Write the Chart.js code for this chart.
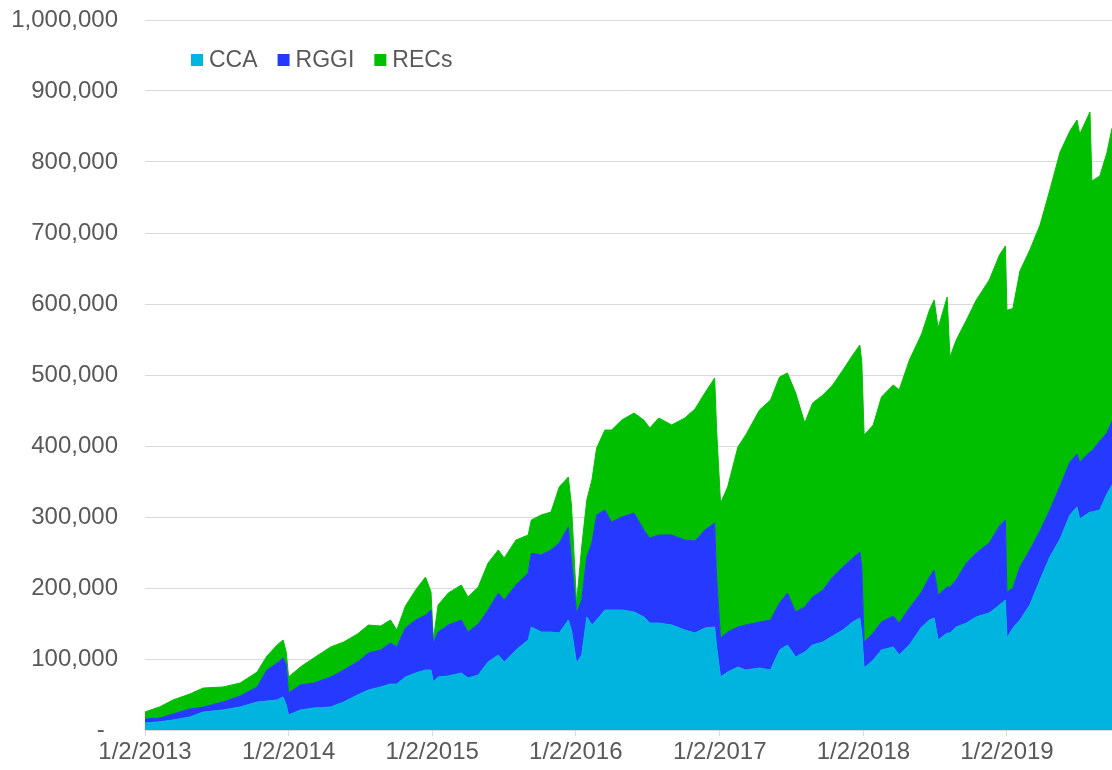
<!DOCTYPE html>
<html>
<head>
<meta charset="utf-8">
<title>CCA / RGGI / RECs</title>
<script src="https://cdn.jsdelivr.net/npm/chart.js@4.4.1/dist/chart.umd.min.js"></script>
<style>
  html, body { margin: 0; padding: 0; background: #fff; }
  #wrap { width: 1112px; height: 770px; }
</style>
</head>
<body>
<div id="wrap"><canvas id="chart" width="1112" height="770"></canvas></div>
<script>
// ── Data ────────────────────────────────────────────────────

const dates = [
  '2013-01-02', '2013-02-09', '2013-03-14', '2013-04-26', '2013-05-30', '2013-07-19',
  '2013-09-01', '2013-10-14', '2013-11-08', '2013-12-04', '2013-12-19', '2013-12-27',
  '2014-01-02', '2014-02-01', '2014-03-07', '2014-04-19', '2014-05-22', '2014-06-26',
  '2014-07-24', '2014-08-24', '2014-09-18', '2014-10-04', '2014-10-26', '2014-11-21',
  '2014-12-16', '2014-12-30', '2015-01-05', '2015-01-17', '2015-02-12', '2015-03-17',
  '2015-04-03', '2015-04-29', '2015-05-24', '2015-06-19', '2015-07-04', '2015-08-03',
  '2015-09-03', '2015-09-11', '2015-10-06', '2015-10-31', '2015-11-21', '2015-12-14',
  '2015-12-22', '2016-01-04', '2016-01-17', '2016-01-30', '2016-02-12', '2016-02-24',
  '2016-03-16', '2016-04-02', '2016-04-28', '2016-05-29', '2016-06-23', '2016-07-08',
  '2016-07-31', '2016-09-02', '2016-10-05', '2016-10-31', '2016-11-25', '2016-12-20',
  '2016-12-25', '2017-01-04', '2017-01-22', '2017-02-17', '2017-03-09', '2017-04-13',
  '2017-05-11', '2017-06-03', '2017-06-23', '2017-07-14', '2017-08-06', '2017-08-26',
  '2017-09-21', '2017-10-16', '2017-11-11', '2017-12-06', '2017-12-24', '2017-12-29',
  '2018-01-04', '2018-01-27', '2018-02-17', '2018-03-19', '2018-04-03', '2018-04-29',
  '2018-05-30', '2018-06-19', '2018-07-01', '2018-07-11', '2018-08-03', '2018-08-10',
  '2018-08-26', '2018-09-21', '2018-10-16', '2018-11-18', '2018-12-14', '2018-12-29',
  '2019-01-02', '2019-01-17', '2019-02-04', '2019-03-01', '2019-03-27', '2019-04-21',
  '2019-05-17', '2019-06-11', '2019-06-29', '2019-07-06', '2019-08-01', '2019-08-06',
  '2019-08-26', '2019-09-13', '2019-09-26'
];

const cca = [
   9900,  11700,  14100,  18300,  25300,  28200,  32400,  39400,  40800,  42300,  46500,  35200,
  21100,  28200,  31000,  32400,  39400,  49300,  56300,  60600,  64800,  64800,  74600,  80300,
  84500,  84500,  67600,  74600,  76100,  80300,  73200,  77400,  95700, 105600,  95700, 112700,
 126800, 145000, 138000, 138000, 136600, 154900, 140800,  94300, 105600, 159200, 147900, 154900,
 169000, 169000, 169000, 166200, 159200, 150700, 150700, 147900, 140800, 136600, 143600, 145000,
 116900,  74600,  81700,  88700,  84500,  87300,  84500, 112700, 119700, 102800, 109900, 119700,
 123900, 132400, 140800, 152100, 157700, 136600,  87300,  98600, 112700, 116900, 105600, 119700,
 145000, 154900, 157700, 126800, 136600, 136600, 145000, 150700, 159200, 164800, 176100, 183100,
 129600, 143600, 154900, 176100, 211300, 243700, 269000, 302800, 314100, 297200, 307000, 307000,
 309900, 332400, 345000
];

const rggi = [
   5600,   5200,   8400,  11300,   7000,  11300,  15500,  21100,  43700,  52100,  54900,  56300,
  31000,  35200,  35200,  42300,  45100,  46500,  52100,  52100,  57700,  52100,  69000,  74600,
  77400,  84500,  54900,  63400,  71800,  74600,  64800,  71800,  73200,  87300,  87300,  91500,
  94300, 104200, 108500, 115500, 126800, 131000,  98600,  70400,  77400,  84500, 115500, 147900,
 140800, 123900, 131000, 139400, 122500, 119700, 123900, 126800, 126800, 129600, 138000, 146500,
  97200,  54900,  56300,  56300,  63400,  64800,  70400,  66200,  73200,  63400,  63400,  67600,
  73200,  83100,  88700,  90100,  93000,  93000,  36600,  38000,  39400,  43700,  45100,  52100,
  49300,  60600,  67600,  63400,  64800,  64800,  66200,  84500,  90100,  98600, 111300, 112700,
  64800,  56300,  74600,  77400,  69000,  66200,  74600,  74600,  74600,  80300,  84500,  85900,
  97200,  85900,  90000
];

const recs = [
   9900,  15800,  19700,  21100,  26800,  21100,  18300,  21100,  19700,  25400,  25400,  18300,
  22500,  25400,  35200,  42300,  39400,  39400,  39400,  33800,  32400,  23900,  31000,  42300,
  53500,  25400,   4200,  38000,  45100,  49300,  49300,  52100,  66200,  60600,  59200,  63400,
  53500,  46500,  56300,  53500,  78900,  70400,  77400,  14100,  74600,  80300,  88700,  94300,
 112700, 129600, 136600, 140800, 154900, 154900, 164800, 154900, 171800, 185900, 193000, 204200,
 208500, 190100, 204200, 253500, 267600, 298600, 309900, 318300, 309900, 308500, 259200, 273200,
 274600, 270400, 277500, 285900, 291500, 288700, 291500, 292900, 316900, 325400, 328200, 349300,
 363400, 376100, 380300, 376100, 408500, 323900, 338000, 342200, 356300, 370400, 381700, 385900,
 396700, 393800, 416900, 422500, 430900, 450700, 470400, 466200, 470400, 461900, 478900, 380300,
 373200, 394400, 412600
];

const seriesLabels = ['CCA', 'RGGI', 'RECs'];
const seriesColors = ['#00B4E0', '#2639FF', '#00BF00'];

const xTickDates  = ['2013-01-02', '2014-01-02', '2015-01-02', '2016-01-02', '2017-01-02', '2018-01-02', '2019-01-02'];
const xTickLabels = ['1/2/2013', '1/2/2014', '1/2/2015', '1/2/2016', '1/2/2017', '1/2/2018', '1/2/2019'];

// ── Helpers ─────────────────────────────────────────────────

const FAMILY    = "'Liberation Sans', Arial, sans-serif";
const AXIS_FONT = { family: FAMILY, size: 24 };
const LEG_SIZE  = 23;
const TEXT      = '#595959';
const GRID      = '#d9d9d9';
const DAY       = 86400000;
const START     = Date.UTC(2013, 0, 2);

const toDay = s => {
  const [y, m, d] = s.split('-').map(Number);
  return Math.round((Date.UTC(y, m - 1, d) - START) / DAY);
};

const xs     = dates.map(toDay);
const xTicks = xTickDates.map(toDay);
const points = arr => arr.map((v, i) => ({ x: xs[i], y: v }));

// legend sits inside the plot, top-left, like the original
const insideLegend = {
  id: 'insideLegend',
  afterDatasetsDraw(chart) {
    const ctx = chart.ctx;
    ctx.save();
    ctx.font = `${LEG_SIZE}px ${FAMILY}`;
    ctx.textBaseline = 'middle';
    let x = 191;
    const y = 60;
    chart.data.datasets.forEach(ds => {
      ctx.fillStyle = ds.backgroundColor;
      ctx.fillRect(x, y - 6, 12, 12);
      ctx.fillStyle = TEXT;
      ctx.fillText(ds.label, x + 18, y + 1);
      x += 18 + ctx.measureText(ds.label).width + 20;
    });
    ctx.restore();
  }
};

// ── Chart ───────────────────────────────────────────────────

const series = [cca, rggi, recs];

new Chart(document.getElementById('chart'), {
  type: 'line',
  data: {
    datasets: series.map((arr, i) => ({
      label: seriesLabels[i],
      data: points(arr),
      backgroundColor: seriesColors[i],
      borderColor: seriesColors[i],
      borderWidth: 1,
      fill: i === 0 ? 'origin' : '-1',
      pointRadius: 0,
      tension: 0
    }))
  },
  options: {
    responsive: false,
    animation: false,
    devicePixelRatio: 1,
    layout: { padding: { top: 20, right: 0, bottom: 0, left: 0 } },
    plugins: {
      legend:  { display: false },
      tooltip: { enabled: false }
    },
    scales: {
      x: {
        type: 'linear',
        min: 0,
        max: xs[xs.length - 1],
        afterBuildTicks: s => { s.ticks = xTicks.map(v => ({ value: v })); },
        afterFit: s => { s.height = 40; },
        grid:   { drawOnChartArea: false, drawTicks: true, tickLength: 6, color: GRID },
        border: { color: GRID, width: 1 },
        ticks: {
          padding: 2,
          maxRotation: 0,
          autoSkip: false,
          color: TEXT,
          font: AXIS_FONT,
          callback: v => {
            const i = xTicks.indexOf(v);
            return i >= 0 ? xTickLabels[i] : '';
          }
        }
      },
      y: {
        stacked: true,
        min: 0,
        max: 1000000,
        afterFit: s => { s.width = 145; },
        // invisible tick marks give the label gap without padding the plot top
        grid:   { color: GRID, drawTicks: true, tickLength: 27, tickColor: 'rgba(0,0,0,0)' },
        border: { display: false },
        ticks: {
          stepSize: 100000,
          padding: 0,
          color: TEXT,
          font: AXIS_FONT,
          callback: v => v === 0 ? '-  ' : v.toLocaleString('en-US')
        }
      }
    }
  },
  plugins: [insideLegend]
});
</script>
</body>
</html>
